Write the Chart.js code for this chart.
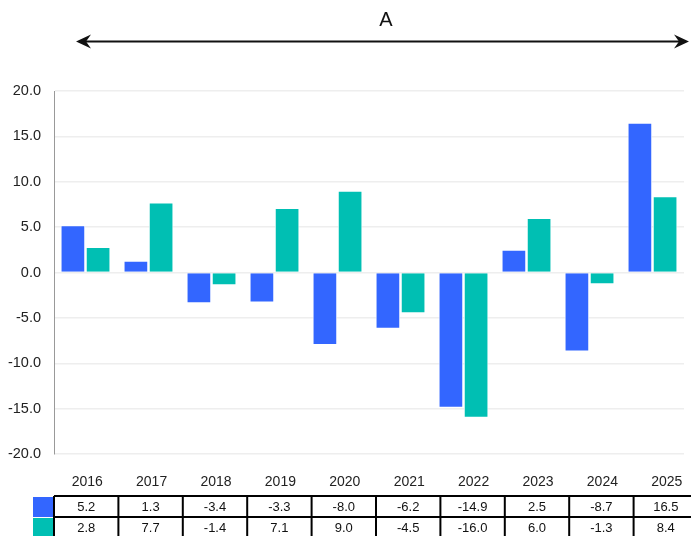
<!DOCTYPE html>
<html>
<head>
<meta charset="utf-8">
<script src="https://cdn.jsdelivr.net/npm/chart.js@4/dist/chart.umd.min.js"></script>
<style>
  body { margin: 0; background: #fff; }
  canvas { display: block; }
</style>
</head>
<body>
<canvas id="chart" width="691" height="536"></canvas>
<script>
const years = ['2016', '2017', '2018', '2019', '2020', '2021', '2022', '2023', '2024', '2025'];
const seriesA = [5.2, 1.3, -3.4, -3.3, -8.0, -6.2, -14.9, 2.5, -8.7, 16.5];
const seriesB = [2.8, 7.7, -1.4, 7.1, 9.0, -4.5, -16.0, 6.0, -1.3, 8.4];
const colorA = '#3366ff';
const colorB = '#00bfb3';
const titleText = 'A';

const FONT = '"Liberation Sans", Arial, sans-serif';

// header arrow with label above the chart
const arrowPlugin = {
    id: 'arrowTitle',
    afterDraw(chart) {
        const c = chart.ctx;
        const y = 41.5, x1 = 76, x2 = 689;
        c.save();
        c.fillStyle = '#111';
        c.font = '20px ' + FONT;
        c.textAlign = 'center';
        c.textBaseline = 'middle';
        c.fillText(titleText, 386, 20);
        c.strokeStyle = '#111';
        c.lineWidth = 2.2;
        c.beginPath();
        c.moveTo(x1 + 6, y);
        c.lineTo(x2 - 6, y);
        c.stroke();
        c.beginPath();
        c.moveTo(x1, y);
        c.lineTo(x1 + 15, y - 7);
        c.lineTo(x1 + 10, y);
        c.lineTo(x1 + 15, y + 7);
        c.closePath();
        c.fill();
        c.beginPath();
        c.moveTo(x2, y);
        c.lineTo(x2 - 15, y - 7);
        c.lineTo(x2 - 10, y);
        c.lineTo(x2 - 15, y + 7);
        c.closePath();
        c.fill();
        c.restore();
    }
};

// year header and data table under the plot
const tablePlugin = {
    id: 'dataTable',
    afterDraw(chart) {
        const c = chart.ctx;
        const left = chart.chartArea.left;
        const colW = 64.4;
        const top = 496, rowH = 21;
        const rows = [[seriesA, colorA], [seriesB, colorB]];
        c.save();
        c.fillStyle = '#222';
        c.font = '14px ' + FONT;
        c.textAlign = 'center';
        c.textBaseline = 'middle';
        years.forEach(function (yr, i) {
            c.fillText(yr, left + (i + 0.5) * colW + 1, 482);
        });
        rows.forEach(function (row, r) {
            const y = top + r * rowH;
            c.fillStyle = row[1];
            c.fillRect(33, y + 1, left - 33, rowH - 1);
            c.fillStyle = '#111';
            c.font = '13px ' + FONT;
            row[0].forEach(function (v, i) {
                c.fillText(v.toFixed(1), left + (i + 0.5) * colW, y + rowH / 2 + 1);
            });
        });
        c.strokeStyle = '#000';
        c.lineWidth = 2;
        c.beginPath();
        for (let r = 0; r <= 2; r++) {
            c.moveTo(left, top + r * rowH);
            c.lineTo(left + years.length * colW, top + r * rowH);
        }
        for (let i = 0; i <= years.length; i++) {
            c.moveTo(left + i * colW, top);
            c.lineTo(left + i * colW, top + 2 * rowH + 2);
        }
        c.stroke();
        c.restore();
    }
};

new Chart(document.getElementById('chart').getContext('2d'), {
    type: 'bar',
    data: {
        labels: years,
        datasets: [
            { data: seriesA, backgroundColor: colorA, borderColor: '#fff', borderWidth: 1 },
            { data: seriesB, backgroundColor: colorB, borderColor: '#fff', borderWidth: 1 }
        ]
    },
    options: {
        responsive: false,
        animation: false,
        categoryPercentage: 0.8,
        barPercentage: 0.98,
        layout: { padding: { top: 91, right: 7, bottom: 74, left: 0 } },
        plugins: {
            legend: { display: false },
            tooltip: { enabled: false }
        },
        scales: {
            x: {
                grid: { display: false },
                border: { display: false },
                ticks: { display: false }
            },
            y: {
                min: -20,
                max: 20,
                afterFit: function (scale) { scale.width = 54; },
                grid: { color: '#eeeeee', lineWidth: 1.5, drawTicks: false },
                border: { color: '#999', width: 1 },
                ticks: {
                    stepSize: 5,
                    color: '#222',
                    padding: 13,
                    font: { family: FONT, size: 14.5 },
                    callback: function (v) { return v.toFixed(1); }
                }
            }
        }
    },
    plugins: [arrowPlugin, tablePlugin]
});
</script>
</body>
</html>
